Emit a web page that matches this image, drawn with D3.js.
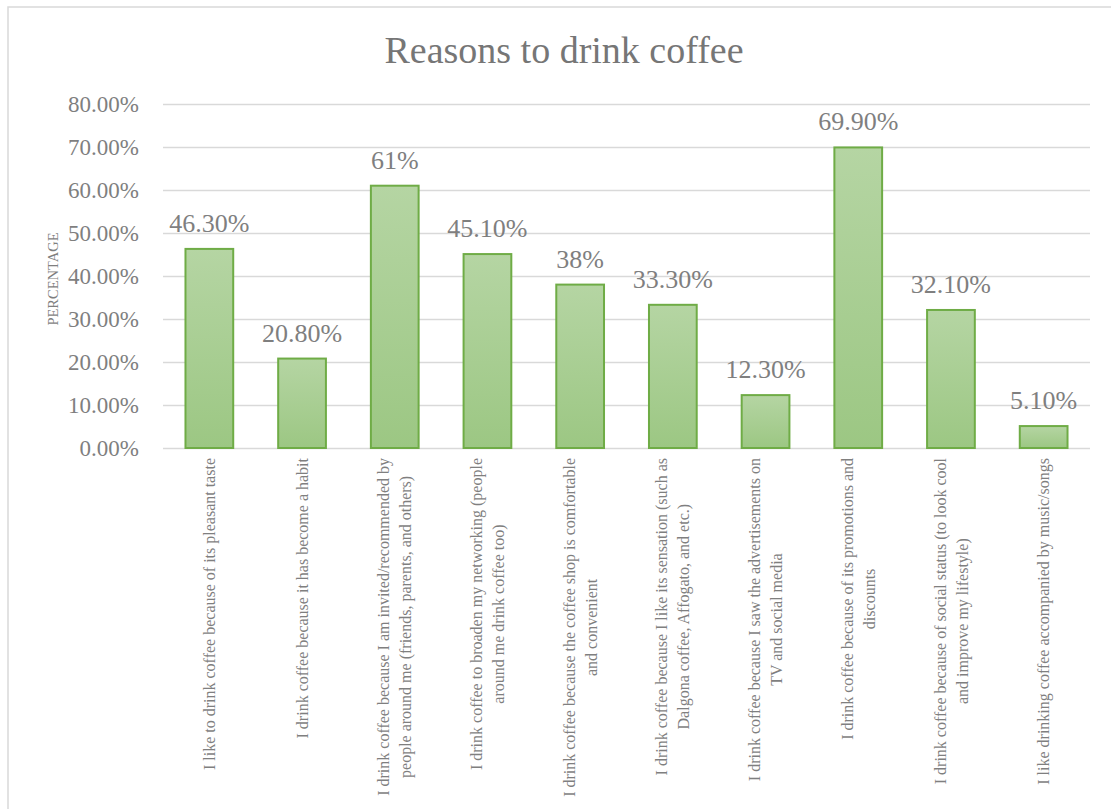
<!DOCTYPE html>
<html>
<head>
<meta charset="utf-8">
<script src="https://cdn.jsdelivr.net/npm/d3@7"></script>
<style>
  html, body { margin: 0; padding: 0; background: #fff; }
  svg { display: block; }
  text { font-family: "Liberation Serif", "Times New Roman", serif; }
</style>
</head>
<body>
<svg id="chart" width="1111" height="809"></svg>
<script>
// Survey categories (line breaks mark where each axis label wraps)
const categories = [
  "I like to drink coffee because of its pleasant taste",
  "I drink coffee because it has become a habit",
  "I drink coffee because I am invited/recommended by\npeople around me (friends, parents, and others)",
  "I drink coffee to broaden my networking (people\naround me drink coffee too)",
  "I drink coffee because the coffee shop is comfortable\nand convenient",
  "I drink coffee because I like its sensation (such as\nDalgona coffee, Affogato, and etc.)",
  "I drink coffee because I saw the advertisements on\nTV and social media",
  "I drink coffee because of its promotions and\ndiscounts",
  "I drink coffee because of social status (to look cool\nand improve my lifestyle)",
  "I like drinking coffee accompanied by music/songs"
];
// Share of respondents, in percent
const values = [46.3, 20.8, 61, 45.1, 38, 33.3, 12.3, 69.9, 32.1, 5.1];
// Data labels as printed above each bar
const valueLabels = ["46.30%", "20.80%", "61%", "45.10%", "38%", "33.30%", "12.30%", "69.90%", "32.10%", "5.10%"];
// Y axis ticks
const yTicks = [0, 10, 20, 30, 40, 50, 60, 70, 80];
const yTickLabels = ["0.00%", "10.00%", "20.00%", "30.00%", "40.00%", "50.00%", "60.00%", "70.00%", "80.00%"];

const serif = "'Liberation Serif', 'Times New Roman', serif";
const svg = d3.select("#chart");
const plot = { left: 163, right: 1090, top: 104, bottom: 448 };

const x = d3.scaleBand()
  .domain(d3.range(categories.length))
  .range([plot.left, plot.right])
  .paddingInner(0.485)
  .paddingOuter(0.2425);

const y = d3.scaleLinear().domain([0, 80]).range([plot.bottom, plot.top]);

// Outer frame
svg.append("rect")
  .attr("x", 8).attr("y", 7)
  .attr("width", 1120).attr("height", 820)
  .attr("fill", "none")
  .attr("stroke", "#d9d9d9")
  .attr("stroke-width", 1.5);

// Bar fill gradient
const defs = svg.append("defs");
const grad = defs.append("linearGradient")
  .attr("id", "barFill")
  .attr("x1", 0).attr("y1", 0).attr("x2", 0).attr("y2", 1);
grad.append("stop").attr("offset", "0%").attr("stop-color", "#b5d5a3");
grad.append("stop").attr("offset", "100%").attr("stop-color", "#9cc783");

// Title
svg.append("text")
  .attr("x", 564).attr("y", 63)
  .attr("text-anchor", "middle")
  .attr("font-family", serif)
  .attr("font-size", 38)
  .attr("fill", "#767676")
  .text("Reasons to drink coffee");

// Gridlines and y tick labels
const yAxis = d3.axisLeft(y)
  .tickValues(yTicks)
  .tickSize(-(plot.right - plot.left))
  .tickPadding(24)
  .tickFormat((d, i) => yTickLabels[i]);

const gy = svg.append("g")
  .attr("transform", `translate(${plot.left},0)`)
  .call(yAxis)
  .attr("font-family", serif);
gy.select(".domain").remove();
gy.selectAll(".tick line")
  .attr("stroke", "#d9d9d9")
  .attr("stroke-width", 1.4);
gy.selectAll(".tick text")
  .attr("font-size", 23)
  .attr("font-family", serif)
  .attr("fill", "#7f7f7f");

// Y axis title
svg.append("text")
  .attr("transform", `translate(58,${(plot.top + plot.bottom) / 2 + 3}) rotate(-90)`)
  .attr("text-anchor", "middle")
  .attr("font-family", serif)
  .attr("font-size", 14.5)
  .attr("fill", "#7f7f7f")
  .text("PERCENTAGE");

// Bars
svg.append("g")
  .selectAll("rect")
  .data(values)
  .join("rect")
  .attr("x", (d, i) => x(i))
  .attr("y", d => y(d))
  .attr("width", x.bandwidth())
  .attr("height", d => y(0) - y(d))
  .attr("fill", "url(#barFill)")
  .attr("stroke", "#6fac46")
  .attr("stroke-width", 2);

// Value labels
svg.append("g")
  .selectAll("text")
  .data(values)
  .join("text")
  .attr("x", (d, i) => x(i) + x.bandwidth() / 2)
  .attr("y", d => y(d) - 17)
  .attr("text-anchor", "middle")
  .attr("font-family", serif)
  .attr("font-size", 26)
  .attr("fill", "#7f7f7f")
  .text((d, i) => valueLabels[i]);

// Rotated category labels, each block top-aligned under the axis with centred lines
const lineGap = 22;
const labelTop = plot.bottom + 10;
const catG = svg.append("g");
categories.forEach((label, i) => {
  const lines = label.split("\n");
  const g = catG.append("g")
    .attr("transform", `translate(${x(i) + x.bandwidth() / 2},${labelTop}) rotate(-90)`);
  const texts = lines.map((ln, j) => g.append("text")
    .attr("font-family", serif)
    .attr("font-size", 16)
    .attr("fill", "#7f7f7f")
    .attr("text-anchor", "middle")
    .attr("dy", "0.35em")
    .attr("y", (j - (lines.length - 1) / 2) * lineGap)
    .text(ln));
  const maxW = d3.max(texts, t => t.node().getComputedTextLength());
  texts.forEach(t => t.attr("x", -maxW / 2));
});
</script>
</body>
</html>
